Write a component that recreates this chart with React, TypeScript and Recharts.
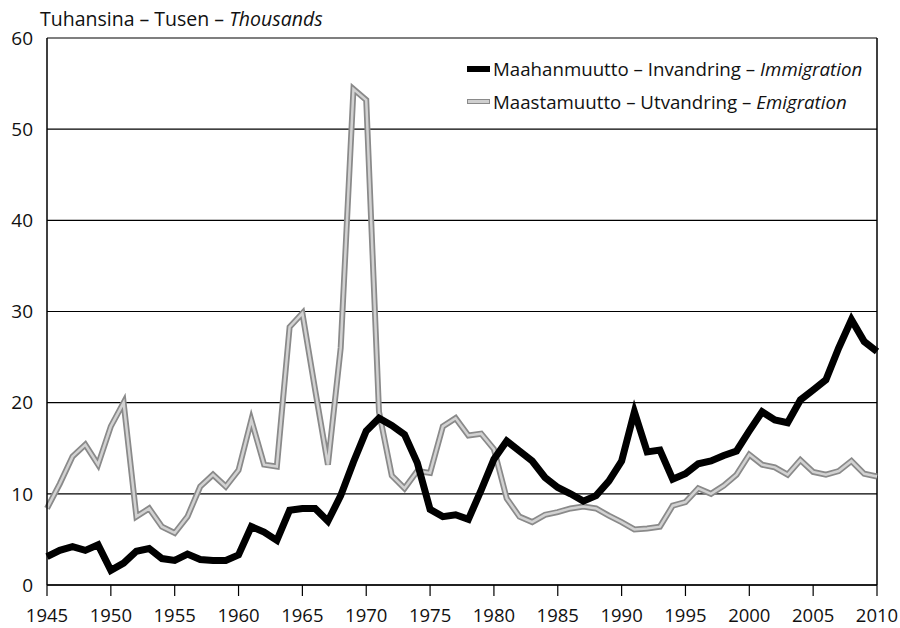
import {
  CartesianGrid,
  Line,
  LineChart,
  ReferenceLine,
  XAxis,
  YAxis,
} from "recharts";

const years = [
  1945, 1946, 1947, 1948, 1949, 1950, 1951, 1952, 1953, 1954,
  1955, 1956, 1957, 1958, 1959, 1960, 1961, 1962, 1963, 1964,
  1965, 1966, 1967, 1968, 1969, 1970, 1971, 1972, 1973, 1974,
  1975, 1976, 1977, 1978, 1979, 1980, 1981, 1982, 1983, 1984,
  1985, 1986, 1987, 1988, 1989, 1990, 1991, 1992, 1993, 1994,
  1995, 1996, 1997, 1998, 1999, 2000, 2001, 2002, 2003, 2004,
  2005, 2006, 2007, 2008, 2009, 2010,
];

const immigration = [
  3.1, 3.8, 4.2, 3.8, 4.4, 1.6, 2.4, 3.7, 4.0, 2.9,
  2.7, 3.4, 2.8, 2.7, 2.7, 3.3, 6.4, 5.8, 4.9, 8.2,
  8.4, 8.4, 7.0, 9.8, 13.5, 16.9, 18.3, 17.5, 16.5, 13.4,
  8.3, 7.5, 7.7, 7.2, 10.4, 13.8, 15.8, 14.7, 13.6, 11.8,
  10.7, 10.0, 9.2, 9.8, 11.4, 13.6, 19.0, 14.6, 14.8, 11.6,
  12.2, 13.3, 13.6, 14.2, 14.7, 16.9, 19.0, 18.1, 17.8, 20.3,
  21.4, 22.5, 26.0, 29.1, 26.7, 25.6,
];

const emigration = [
  8.4, 11.1, 14.1, 15.4, 13.2, 17.4, 20.0, 7.5, 8.4, 6.4,
  5.7, 7.5, 10.8, 12.1, 10.8, 12.6, 18.1, 13.2, 13.0, 28.3,
  29.8, 21.4, 13.2, 26.0, 54.4, 53.2, 19.0, 12.0, 10.6, 12.5,
  12.3, 17.4, 18.3, 16.4, 16.6, 14.9, 9.5, 7.5, 6.9, 7.7,
  8.0, 8.4, 8.6, 8.4, 7.6, 6.9, 6.1, 6.2, 6.4, 8.7,
  9.1, 10.6, 10.0, 10.9, 12.1, 14.3, 13.2, 12.9, 12.1, 13.7,
  12.4, 12.1, 12.5, 13.6, 12.2, 11.9,
];

const xTicks = [1945, 1950, 1955, 1960, 1965, 1970, 1975, 1980, 1985, 1990, 1995, 2000, 2005, 2010];
const yTicks = [0, 10, 20, 30, 40, 50, 60];

const data = years.map((year, i) => ({
  year,
  immigration: immigration[i],
  emigration: emigration[i],
}));

const FONT = "'Open Sans', 'Noto Sans', sans-serif";

// legend drawn as an overlay so the plot keeps its full width
function LegendBox() {
  return (
    <div
      style={{
        position: "absolute",
        left: 467,
        top: 52,
        fontFamily: FONT,
        fontSize: 18.7,
        color: "#111",
        lineHeight: "33px",
        whiteSpace: "nowrap",
      }}
    >
      <div style={{ display: "flex", alignItems: "center" }}>
        <span style={{ display: "inline-block", width: 23, height: 6, background: "#000", marginRight: 3 }} />
        <span>
          Maahanmuutto – Invandring – <i>Immigration</i>
        </span>
      </div>
      <div style={{ display: "flex", alignItems: "center" }}>
        <span
          style={{
            display: "inline-block",
            width: 23,
            height: 5,
            background: "#cfcfcf",
            border: "1px solid #8a8a8a",
            boxSizing: "border-box",
            marginRight: 3,
          }}
        />
        <span>
          Maastamuutto – Utvandring – <i>Emigration</i>
        </span>
      </div>
    </div>
  );
}

export default function App() {
  return (
    <div style={{ position: "absolute", left: 0, top: 0, width: 900, height: 628, background: "#fff" }}>
      <LineChart
        width={900}
        height={628}
        data={data}
        margin={{ top: 38, right: 23, left: 0, bottom: 0 }}
      >
        <CartesianGrid vertical={false} stroke="#000" strokeWidth={1.2} />
        <XAxis
          dataKey="year"
          type="number"
          domain={[1945, 2010]}
          ticks={xTicks}
          interval={0}
          height={43}
          tickSize={11}
          tickMargin={13}
          axisLine={{ stroke: "#000", strokeWidth: 1.5 }}
          tickLine={{ stroke: "#000", strokeWidth: 1.2 }}
          tick={{ fill: "#111", fontSize: 18.5, fontFamily: FONT }}
        />
        <YAxis
          type="number"
          domain={[0, 60]}
          ticks={yTicks}
          interval={0}
          width={47}
          tickSize={0}
          tickMargin={14}
          axisLine={{ stroke: "#000", strokeWidth: 1.5 }}
          tickLine={false}
          tick={{ fill: "#111", fontSize: 19, fontFamily: FONT }}
        />
        <ReferenceLine x={2010} stroke="#000" strokeWidth={1.5} />
        <Line
          dataKey="emigration"
          stroke="#8a8a8a"
          strokeWidth={6}
          dot={false}
          isAnimationActive={false}
        />
        <Line
          dataKey="emigration"
          stroke="#d2d2d2"
          strokeWidth={2.5}
          dot={false}
          isAnimationActive={false}
        />
        <Line
          dataKey="immigration"
          stroke="#000"
          strokeWidth={7}
          dot={false}
          isAnimationActive={false}
        />
      </LineChart>
      <div
        style={{
          position: "absolute",
          left: 40,
          top: 5,
          fontFamily: FONT,
          fontSize: 19.5,
          color: "#111",
          whiteSpace: "nowrap",
        }}
      >
        Tuhansina – Tusen – <i>Thousands</i>
      </div>
      <LegendBox />
    </div>
  );
}
